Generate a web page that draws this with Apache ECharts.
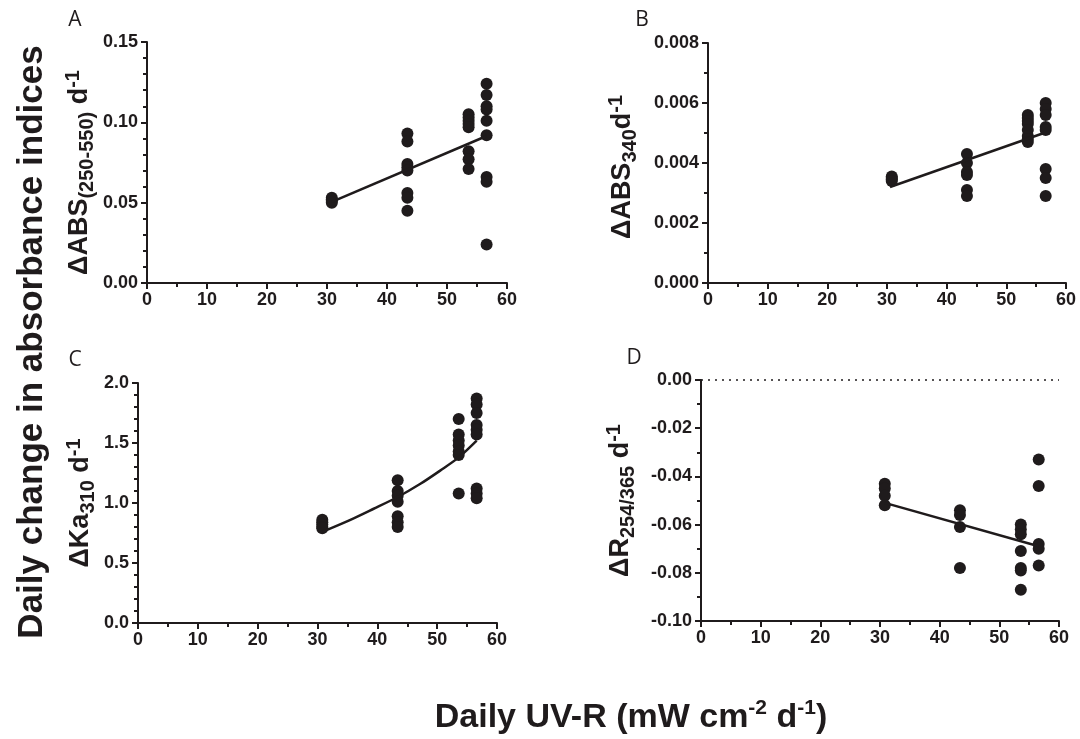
<!DOCTYPE html>
<html><head><meta charset="utf-8">
<script src="https://cdn.jsdelivr.net/npm/echarts@6/dist/echarts.min.js"></script>
<style>html,body{margin:0;padding:0;background:#fff}#c{width:1080px;height:739px}</style>
</head><body><div id="c"></div>
<script>
// x positions of the four UV-R levels (mW cm-2 d-1)
const uvLevels = [30.8, 43.4, 53.6, 56.6];
const xTicks = [0, 10, 20, 30, 40, 50, 60];

// Panel A: ΔABS(250-550) d-1, values per UV level
const absA = [
  [0.053, 0.052, 0.051, 0.050],
  [0.093, 0.088, 0.074, 0.072, 0.070, 0.056, 0.053, 0.045],
  [0.105, 0.103, 0.101, 0.099, 0.097, 0.082, 0.077, 0.071],
  [0.124, 0.117, 0.110, 0.108, 0.101, 0.092, 0.066, 0.063, 0.024]
];
const fitA = [[30.8, 0.0505], [56.6, 0.0915]];

// Panel B: ΔABS340 d-1
const absB = [
  [0.00355, 0.0035, 0.00345, 0.0034],
  [0.0043, 0.0040, 0.0037, 0.0036, 0.0031, 0.0029],
  [0.0056, 0.0055, 0.0054, 0.0053, 0.0051, 0.0049, 0.0048, 0.0047],
  [0.0060, 0.0058, 0.0056, 0.0052, 0.0051, 0.0038, 0.0035, 0.0029]
];
const fitB = [[30.5, 0.0032], [56.3, 0.0050]];

// Panel C: ΔKa310 d-1
const kaC = [
  [0.86, 0.84, 0.82, 0.80, 0.79],
  [1.19, 1.10, 1.06, 1.01, 0.89, 0.84, 0.80],
  [1.70, 1.57, 1.52, 1.48, 1.43, 1.40, 1.08],
  [1.87, 1.82, 1.75, 1.65, 1.61, 1.57, 1.12, 1.08, 1.04]
];
const fitC = [[30.8, 0.76], [35.5, 0.86], [39.3, 0.95], [43.4, 1.05], [47.2, 1.16], [50.5, 1.27], [53.6, 1.38], [56.6, 1.52]];

// Panel D: ΔR254/365 d-1
const ratioD = [
  [-0.043, -0.045, -0.048, -0.052],
  [-0.054, -0.056, -0.061, -0.078],
  [-0.060, -0.062, -0.064, -0.071, -0.078, -0.079, -0.087],
  [-0.033, -0.044, -0.068, -0.070, -0.077]
];
const fitD = [[30.8, -0.051], [56.6, -0.069]];

const yTicksA = [0, 0.05, 0.10, 0.15];
const yTicksB = [0, 0.002, 0.004, 0.006, 0.008];
const yTicksC = [0, 0.5, 1.0, 1.5, 2.0];
const yTicksD = [-0.10, -0.08, -0.06, -0.04, -0.02, 0];

const INK = '#1f1b1c';
const FONT = '"Liberation Sans", Arial, sans-serif';

function pts(groups) {
  const out = [];
  groups.forEach((g, i) => g.forEach(v => out.push([uvLevels[i], v])));
  return out;
}

const grids = [
  {left: 147, top: 42, width: 360, height: 241},
  {left: 708, top: 43, width: 358, height: 240},
  {left: 138, top: 383, width: 359, height: 240},
  {left: 701, top: 380, width: 358, height: 241}
];

function xAx(i) {
  return {
    type: 'value', gridIndex: i, min: xTicks[0], max: xTicks[xTicks.length - 1],
    interval: xTicks[1] - xTicks[0],
    axisLine: {onZero: false, lineStyle: {color: INK, width: 2}},
    axisTick: {length: 6, lineStyle: {color: INK, width: 2}},
    minorTick: {show: true, splitNumber: 2, length: 4, lineStyle: {color: INK, width: 2}},
    splitLine: {show: false},
    axisLabel: {color: INK, fontFamily: FONT, fontWeight: 'bold', fontSize: 18, margin: 8}
  };
}
const richName = {
  m: {fontFamily: FONT, fontWeight: 'bold', fontSize: 27, color: INK, lineHeight: 34},
  sub: {fontFamily: FONT, fontWeight: 'bold', fontSize: 20, color: INK, lineHeight: 14, verticalAlign: 'bottom'},
  sup: {fontFamily: FONT, fontWeight: 'bold', fontSize: 20, color: INK, lineHeight: 14, verticalAlign: 'top'}
};
function yAx(i, ticks, dec, minorSplit, name, gap, shift) {
  return {
    type: 'value', gridIndex: i, min: ticks[0], max: ticks[ticks.length - 1],
    interval: ticks[1] - ticks[0],
    axisLine: {show: true, lineStyle: {color: INK, width: 2}},
    axisTick: {show: true, length: 6, lineStyle: {color: INK, width: 2}},
    minorTick: {show: true, splitNumber: minorSplit, length: 4, lineStyle: {color: INK, width: 2}},
    splitLine: {show: false},
    axisLabel: {color: INK, fontFamily: FONT, fontWeight: 'bold', fontSize: 18, margin: 9,
      formatter: v => v.toFixed(dec)},
    name: name, nameLocation: 'middle', nameGap: gap, nameRotate: 90,
    nameTextStyle: {rich: richName, padding: [0, shift > 0 ? shift : 0, 0, shift < 0 ? -shift : 0]}
  };
}
function scatter(i, groups) {
  return {type: 'scatter', xAxisIndex: i, yAxisIndex: i, data: pts(groups),
    symbol: 'circle', symbolSize: 12, itemStyle: {color: INK, opacity: 1}, z: 3};
}
function fit(i, data, smooth) {
  return {type: 'line', xAxisIndex: i, yAxisIndex: i, data: data, showSymbol: false,
    symbol: 'none', smooth: smooth ? 0.3 : false, lineStyle: {color: INK, width: 2.5}, z: 4};
}

const sD = scatter(3, ratioD);
sD.markLine = {symbol: ['none', 'none'], silent: true, label: {show: false},
  lineStyle: {type: [2, 5], color: INK, width: 1.5}, data: [{yAxis: 0}]};

const option = {
  animation: false,
  backgroundColor: '#fff',
  grid: grids.map(g => Object.assign({outerBoundsMode: 'none', containLabel: false}, g)),
  xAxis: [xAx(0), xAx(1), xAx(2), xAx(3)],
  yAxis: [
    yAx(0, yTicksA, 2, 5, '{m|ΔABS}{sub|(250-550)}{m| d}{sup|-1}', 50, 20),
    yAx(1, yTicksB, 3, 2, '{m|ΔABS}{sub|340}{m|d}{sup|-1}', 68, 8),
    yAx(2, yTicksC, 1, 5, '{m|ΔKa}{sub|310}{m| d}{sup|-1}', 40, 0),
    yAx(3, yTicksD, 2, 2, '{m|ΔR}{sub|254/365}{m| d}{sup|-1}', 63, 0)
  ],
  series: [
    scatter(0, absA), fit(0, fitA),
    scatter(1, absB), fit(1, fitB),
    scatter(2, kaC), fit(2, fitC, true),
    sD, fit(3, fitD)
  ],
  graphic: [
    {type: 'text', x: 75, y: 20, style: {text: 'A', font: '21px "Open Sans", sans-serif', fill: INK, align: 'center', verticalAlign: 'middle'}},
    {type: 'text', x: 642, y: 20, style: {text: 'B', font: '21px "Open Sans", sans-serif', fill: INK, align: 'center', verticalAlign: 'middle'}},
    {type: 'text', x: 75, y: 360, style: {text: 'C', font: '21px "Open Sans", sans-serif', fill: INK, align: 'center', verticalAlign: 'middle'}},
    {type: 'text', x: 634, y: 358, style: {text: 'D', font: '21px "Open Sans", sans-serif', fill: INK, align: 'center', verticalAlign: 'middle'}},
    {type: 'text', x: 32, y: 342, rotation: Math.PI / 2,
      style: {text: 'Daily change in absorbance indices', font: 'bold 35px "Liberation Sans", Arial, sans-serif', fill: INK, align: 'center', verticalAlign: 'middle'}},
    {type: 'text', x: 631, y: 718,
      style: {text: '{b|Daily UV-R (mW cm}{s|-2}{b| d}{s|-1}{b|)}', align: 'center', verticalAlign: 'middle',
        rich: {
          b: {font: 'bold 34px "Liberation Sans", Arial, sans-serif', fill: INK, lineHeight: 40},
          s: {font: 'bold 21px "Liberation Sans", Arial, sans-serif', fill: INK, lineHeight: 20, verticalAlign: 'top'}
        }}}
  ]
};
const chart = echarts.init(document.getElementById('c'), null, {renderer: 'canvas'});
chart.setOption(option);
</script></body></html>
